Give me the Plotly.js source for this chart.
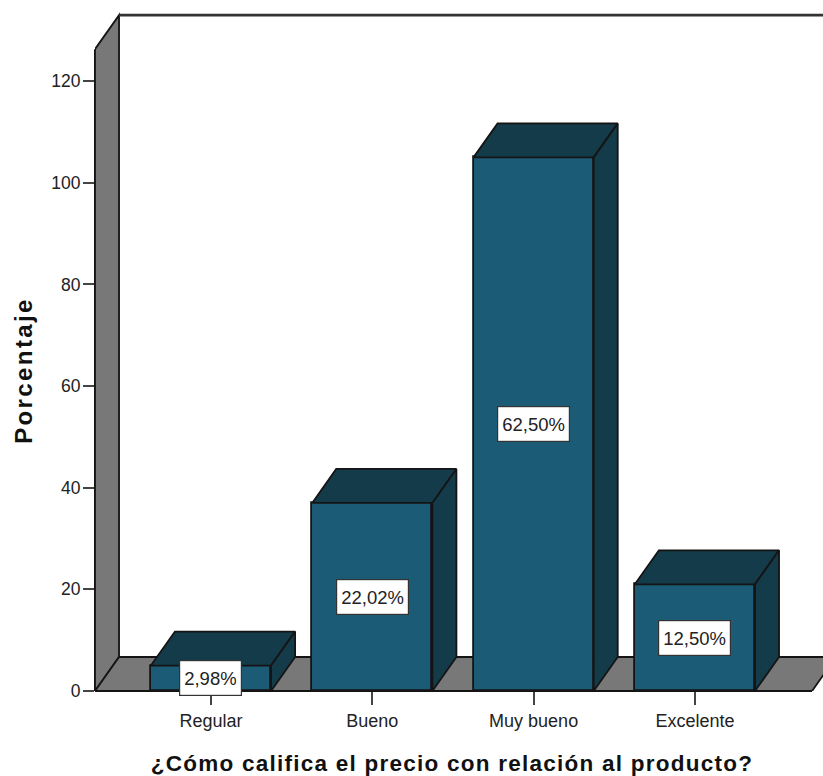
<!DOCTYPE html>
<html>
<head>
<meta charset="utf-8">
<script src="https://cdn.plot.ly/plotly-3.0.1.min.js"></script>
<style>
  html, body { margin: 0; padding: 0; background: #fff; }
  #chart { width: 823px; height: 776px; }
  .xtitle { letter-spacing: 1.25px; translate: -7px 0; }
  .ytitle { letter-spacing: 2.4px; translate: 0 20px; }
</style>
</head>
<body>
<div id="chart"></div>
<script>
// Ratings of price against product
const categories = ['Regular', 'Bueno', 'Muy bueno', 'Excelente'];
const barValues = [5, 37, 105, 21];
const barLabels = ['2,98%', '22,02%', '62,50%', '12,50%'];
const yTicks = [0, 20, 40, 60, 80, 100, 120];

// Scene proportions, in axis units
const barWidth = 0.745;
const depthX = 0.149;
const depthY = 6.69;
const wallTop = 126.3;
const floorEnd = 3.726;
const xRange = [-0.719, 3.794];
const yRange = [0, 134];

const FRONT = '#1c5b75';
const SHADE = '#143b49';
const WALL = '#787878';
const EDGE = '#141414';
const positions = categories.map((_, i) => i);

const polygon = (xs, ys, color) => ({
  type: 'scatter', mode: 'lines', x: xs, y: ys, fill: 'toself', fillcolor: color,
  line: { color: EDGE, width: 1.8 }, hoverinfo: 'skip', showlegend: false, cliponaxis: false
});

const frontBars = {
  type: 'bar', x: positions, y: barValues, width: barWidth,
  marker: { color: FRONT, line: { color: EDGE, width: 1.8 } },
  hoverinfo: 'x+y', showlegend: false, cliponaxis: false
};

// Top and right faces of each bar follow its value
const topFaces = positions.map((p, i) => {
  const l = p - barWidth / 2, r = p + barWidth / 2, v = barValues[i];
  return polygon([l, l + depthX, r + depthX, r, l], [v, v + depthY, v + depthY, v, v], SHADE);
});
const sideFaces = positions.map((p, i) => {
  const r = p + barWidth / 2, v = barValues[i];
  return polygon([r, r + depthX, r + depthX, r, r], [0, depthY, v + depthY, v, 0], SHADE);
});

const x0 = xRange[0];
const sceneShapes = [
  // left wall
  { type: 'path', layer: 'below', xref: 'x', yref: 'y',
    path: `M${x0},0 L${x0 + depthX},${depthY} L${x0 + depthX},${wallTop + depthY} L${x0},${wallTop} Z`,
    fillcolor: WALL, line: { color: EDGE, width: 1.8 } },
  // floor
  { type: 'path', layer: 'below', xref: 'x', yref: 'y',
    path: `M${x0},0 L${x0 + depthX},${depthY} L${floorEnd + depthX},${depthY} L${floorEnd},0 Z`,
    fillcolor: WALL, line: { color: EDGE, width: 1.8 } },
  // back wall top edge
  { type: 'line', layer: 'below', xref: 'x', yref: 'y',
    x0: x0 + depthX, x1: xRange[1], y0: wallTop + depthY, y1: wallTop + depthY,
    line: { color: '#333333', width: 2.6 } },
  // front edges along the axes
  { type: 'line', layer: 'below', xref: 'paper', yref: 'y',
    x0: 0, x1: 0, y0: 0, y1: wallTop, line: { color: EDGE, width: 2 } },
  { type: 'line', layer: 'below', xref: 'x', yref: 'paper',
    x0: x0, x1: floorEnd, y0: 0, y1: 0, line: { color: EDGE, width: 2 } }
];

const valueBoxes = positions.map((p, i) => ({
  x: p, y: barValues[i] / 2, xref: 'x', yref: 'y', text: barLabels[i], showarrow: false,
  font: { family: 'Liberation Sans, Arial, sans-serif', size: 18.5, color: '#222222' },
  height: 26, bgcolor: '#ffffff', bordercolor: '#333333', borderwidth: 1.2, borderpad: 4
}));

const layout = {
  width: 823, height: 776, autosize: false,
  paper_bgcolor: '#ffffff', plot_bgcolor: '#ffffff',
  margin: { l: 95, r: 0, t: 10, b: 85, pad: 0 },
  showlegend: false, bargap: 0,
  font: { family: 'Liberation Sans, Arial, sans-serif', color: '#222222', size: 17 },
  xaxis: {
    range: xRange, tickmode: 'array', tickvals: positions, ticktext: categories,
    ticks: 'outside', ticklen: 13, tickwidth: 1.5, tickcolor: '#444444',
    showgrid: false, zeroline: false, showline: false,
    tickfont: { size: 18, color: '#222222' },
    title: { text: '¿Cómo califica el precio con relación al producto?', standoff: 26,
             font: { size: 22.5, weight: 700, color: '#111111' } }
  },
  yaxis: {
    range: yRange, tickmode: 'array', tickvals: yTicks,
    ticks: 'outside', ticklen: 11, tickwidth: 1.5, tickcolor: '#444444',
    showgrid: false, zeroline: false, showline: false, ticklabelstandoff: -1,
    tickfont: { size: 17.5, color: '#222222' },
    title: { text: 'Porcentaje', standoff: 11, font: { size: 24, weight: 700, color: '#111111' } }
  },
  shapes: sceneShapes,
  annotations: valueBoxes
};

Plotly.newPlot('chart', [frontBars, ...topFaces, ...sideFaces], layout, { displayModeBar: false, responsive: false });
</script>
</body>
</html>
